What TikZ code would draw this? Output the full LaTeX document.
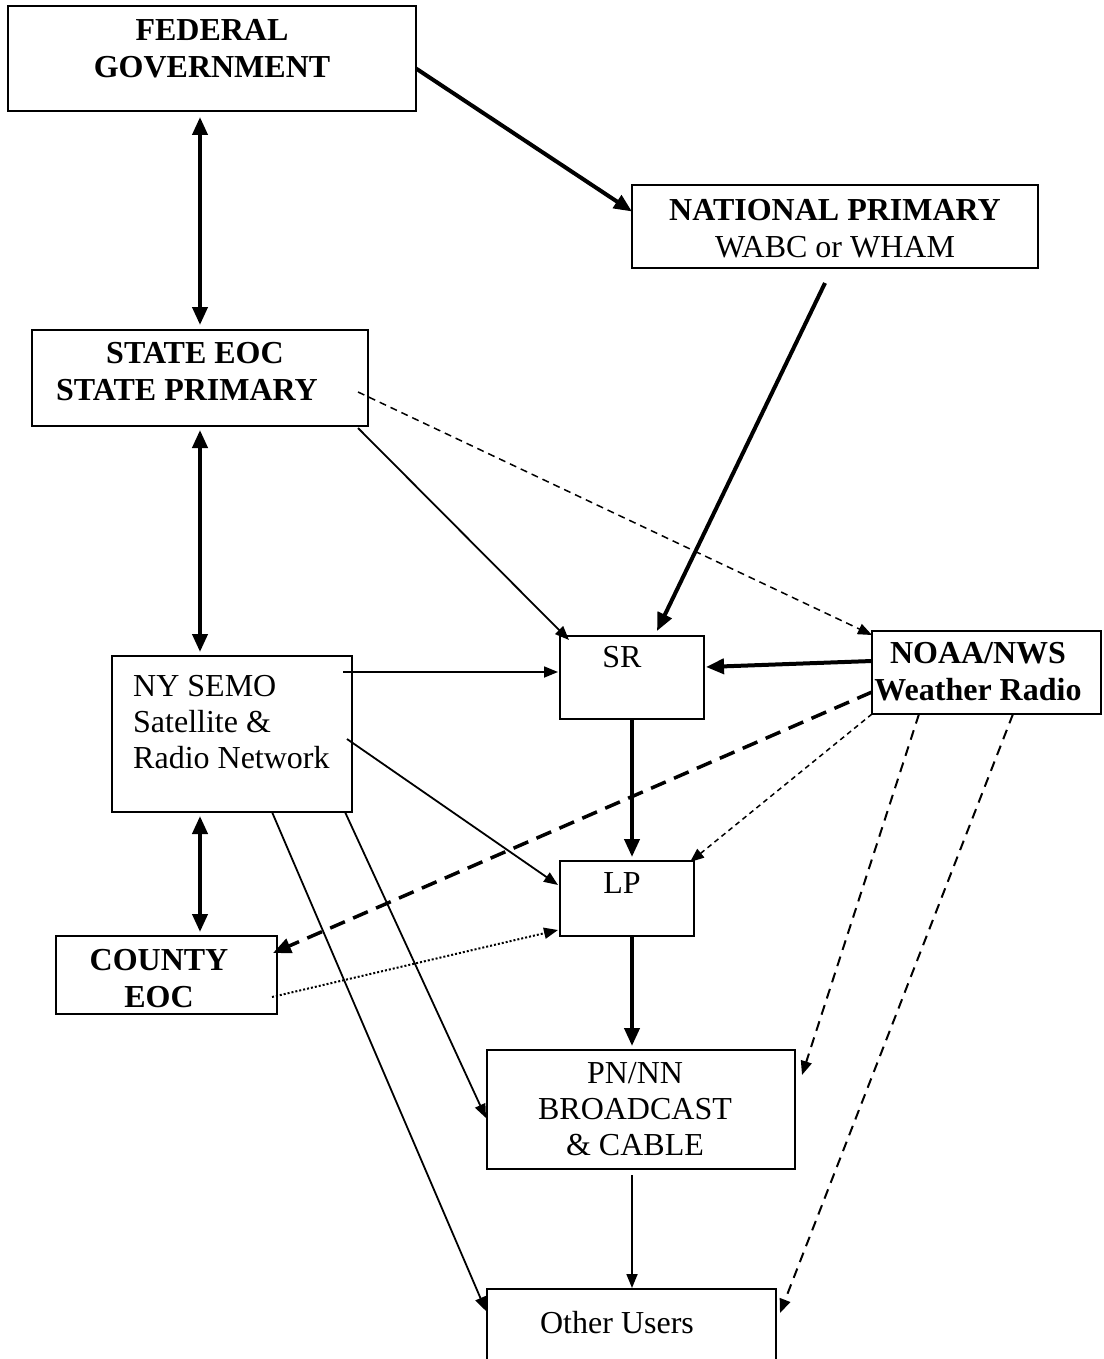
\documentclass[tikz,border=0pt]{standalone}
\usepackage{fontspec}
\setmainfont{Liberation Serif}
\usetikzlibrary{arrows.meta,calc}
\begin{document}
\begin{tikzpicture}[x=1pt,y=-1pt,
  box/.style={draw, line width=2.5pt, inner sep=0pt, outer sep=0pt},
  txt/.style={inner sep=0pt, anchor=north, align=center, font=\fontsize{32}{37}\selectfont},
  btxt/.style={txt, font=\fontsize{32}{37}\selectfont\bfseries},
  thickln/.style={line width=4pt},
  thinln/.style={line width=1.8pt},
  bigtip/.style={-{Triangle[length=18pt,width=15pt]}},
  bigtwo/.style={{Triangle[length=18pt,width=15pt]}-{Triangle[length=18pt,width=15pt]}},
  smalltip/.style={-{Triangle[length=14pt,width=11pt]}},
  finedash/.style={line width=1.5pt, dash pattern=on 7pt off 5pt},
  finerdash/.style={line width=1.5pt, dash pattern=on 5pt off 4pt},
  middash/.style={line width=2pt, dash pattern=on 10pt off 7pt},
  heavydash/.style={line width=3.5pt, dash pattern=on 16pt off 9pt},
  dotline/.style={line width=2pt, dash pattern=on 2pt off 2pt}
]
\useasboundingbox (0,0) rectangle (1103,1359);
\fill[white] (0,0) rectangle (1103,1359);

% boxes
\node[box, minimum width=408pt, minimum height=105pt] (fed) at (212,58.5) {};
\node[box, minimum width=406pt, minimum height=83pt] (nat) at (835,226.5) {};
\node[box, minimum width=336pt, minimum height=96pt] (state) at (200,378) {};
\node[box, minimum width=240pt, minimum height=156pt] (semo) at (232,734) {};
\node[box, minimum width=144pt, minimum height=83pt] (sr) at (632,677.5) {};
\node[box, minimum width=229pt, minimum height=83pt] (noaa) at (986.5,672.5) {};
\node[box, minimum width=134pt, minimum height=75pt] (lp) at (627,898.5) {};
\node[box, minimum width=221pt, minimum height=78pt] (county) at (166.5,975) {};
\node[box, minimum width=308pt, minimum height=119pt] (pn) at (641,1109.5) {};
\node[box, minimum width=289pt, minimum height=91pt] (other) at (631.5,1334.5) {};

% texts
\node[btxt] (fedT) at (212,19.5) {FEDERAL\\GOVERNMENT};
\node[txt] (natT) at (835,199) {\textbf{NATIONAL PRIMARY}\\WABC or WHAM};
\node[btxt] (stateT) at (195,342) {STATE EOC\\STATE PRIMARY\hspace*{16pt}};
\node[txt, anchor=north west, align=left, font=\fontsize{32}{36}\selectfont] (semoT) at (133,675) {NY SEMO\\Satellite \&\\Radio Network};
\node[txt] (srT) at (622,646.5) {SR};
\node[btxt] (noaaT) at (978,642.5) {NOAA/NWS\\Weather Radio};
\node[txt] (lpT) at (622,872.5) {LP};
\node[btxt] (countyT) at (159,949.5) {COUNTY\\EOC};
\node[txt, font=\fontsize{32}{36}\selectfont] (pnT) at (635,1062.5) {PN/NN\\BROADCAST\\\& CABLE};
\node[txt] (otherT) at (617,1311.5) {Other Users};

% connectors
\draw[thickln, bigtwo] ($(fed.south)+(-12,6)$) -- ($(state.north)+(0,-5)$);
\draw[thickln, bigtip] ($(fed.east)+(0,10)$) -- ($(nat.west)+(0,-15)$);
\draw[thickln, bigtip] ($(nat.south)+(-10,15)$) -- ($(sr.north)+(25,-5)$);
\draw[thickln, bigtwo] ($(state.south)+(0,4)$) -- ($(semo.north)+(-32,-4)$);
\draw[thinln, smalltip] ($(state.south east)+(-10,2)$) -- ($(sr.north west)+(9,4)$);
\draw[finedash, smalltip] ($(state.east)+(-10,14)$) -- ($(noaa.north west)+(0,4)$);
\draw[thinln, smalltip] ($(semo.east)+(-9,-62)$) -- ($(sr.west)+(-2,-5.5)$);
\draw[thickln, bigtip] ($(noaa.west)+(0,-11.5)$) -- ($(sr.east)+(2,-10.5)$);
\draw[thickln, bigtip] (sr.south) -- ($(lp.north)+(5,-4)$);
\draw[thinln, smalltip] ($(semo.east)+(-5,5)$) -- ($(lp.west)+(-2,-13.5)$);
\draw[finerdash, smalltip] (noaa.south west) -- ($(lp.north east)+(-4,1)$);
\draw[heavydash, bigtip] ($(noaa.west)+(0,19.5)$) -- ($(county.east)+(-4,-22)$);
\draw[thickln, bigtwo] ($(semo.south)+(-32,4)$) -- ($(county.north)+(33.5,-4)$);
\draw[dotline, smalltip] ($(county.east)+(-5,22)$) -- ($(lp.west)+(-2,31.5)$);
\draw[thickln, bigtip] ($(lp.south)+(5,0)$) -- ($(pn.north)+(-9,-4)$);
\draw[thinln, smalltip] ($(semo.south east)+(-7,0)$) -- ($(pn.west)+(-1,8.5)$);
\draw[thinln, smalltip] ($(semo.south)+(40,0)$) -- ($(other.north west)+(-1,22)$);
\draw[middash, smalltip] ($(noaa.south west)+(47,0)$) -- ($(pn.north east)+(7,25)$);
\draw[middash, smalltip] ($(noaa.south west)+(141,0)$) -- ($(other.north east)+(4,24)$);
\draw[thinln, smalltip] ($(pn.south)+(-9,6)$) -- ($(other.north)+(0.5,-1)$);
\end{tikzpicture}
\end{document}
